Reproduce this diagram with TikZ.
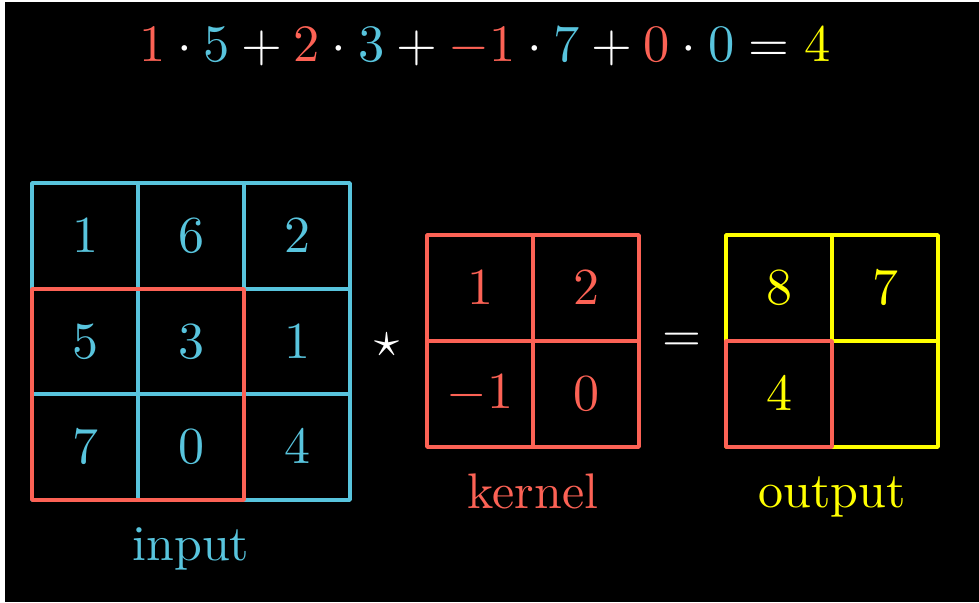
\documentclass[tikz,border=0pt]{standalone}
\definecolor{mblue}{HTML}{58C4DD}
\definecolor{mred}{HTML}{FC6255}
\definecolor{myellow}{HTML}{FFFF00}
\begin{document}
\begin{tikzpicture}[x=1pt,y=-1pt,
  gridb/.style={draw=mblue,line width=3.5pt,line join=round,line cap=round},
  gridr/.style={draw=mred,line width=3.5pt,line join=round,line cap=round},
  gridy/.style={draw=myellow,line width=3.5pt,line join=round,line cap=round},
  dig/.style={font=\normalsize,scale=5.2,inner sep=0pt},
  lab/.style={font=\normalsize,scale=5.0,anchor=base,inner sep=0pt},
  op/.style={font=\normalsize,scale=5.0,text=white,inner sep=0pt}]
\fill[white] (0,0) rectangle (979,602);
\fill[black] (5,2) rectangle (979,602);
\useasboundingbox (0,0) rectangle (979,602);

% equation
\node[font=\normalsize,scale=5.25,text=white,anchor=base,inner sep=0pt] (eq) at (485,62)
  {$\color{mred}1\color{white}\cdot{\color{mblue}5}+{\color{mred}2}\cdot{\color{mblue}3}+{\color{mred}-1}\cdot{\color{mblue}7}+{\color{mred}0}\cdot{\color{mblue}0}={\color{myellow}4}$};

% input grid
\draw[gridb] (32,183) rectangle (350,500);
\draw[gridb] (138,183)--(138,500) (244,183)--(244,500) (32,289)--(350,289) (32,394)--(350,394);
\draw[gridr] (32,289) rectangle (244,500);
\node[dig,text=mblue] (i11) at (85,236) {$1$};
\node[dig,text=mblue] (i12) at (191,236) {$6$};
\node[dig,text=mblue] (i13) at (297,236) {$2$};
\node[dig,text=mblue] (i21) at (85,341.5) {$5$};
\node[dig,text=mblue] (i22) at (191,341.5) {$3$};
\node[dig,text=mblue] (i23) at (297,341.5) {$1$};
\node[dig,text=mblue] (i31) at (85,447) {$7$};
\node[dig,text=mblue] (i32) at (191,447) {$0$};
\node[dig,text=mblue] (i33) at (297,447) {$4$};
\node[lab,text=mblue] (linput) at (191,560) {input};

% star
\node[op] (star) at (387,345) {$\star$};

% kernel grid
\draw[gridr] (427,235) rectangle (639,447);
\draw[gridr] (533,235)--(533,447) (427,341)--(639,341);
\node[dig,text=mred] (k11) at (480,288) {$1$};
\node[dig,text=mred] (k12) at (586,288) {$2$};
\node[dig,text=mred] (k21) at (480,394) {$-1$};
\node[dig,text=mred] (k22) at (586,394) {$0$};
\node[lab,text=mred] (lkernel) at (533,508) {kernel};

% equals
\node[op] (eqs) at (682,342) {$=$};

% output grid
\draw[gridy] (726,235) rectangle (938,447);
\draw[gridy] (832,235)--(832,447) (726,341)--(938,341);
\draw[gridr] (726,341) rectangle (832,447);
\node[dig,text=myellow] (o11) at (779,288) {$8$};
\node[dig,text=myellow] (o12) at (885,288) {$7$};
\node[dig,text=myellow] (o21) at (779,394) {$4$};
\node[lab,text=myellow] (loutput) at (832,507) {output};
\end{tikzpicture}
\end{document}
